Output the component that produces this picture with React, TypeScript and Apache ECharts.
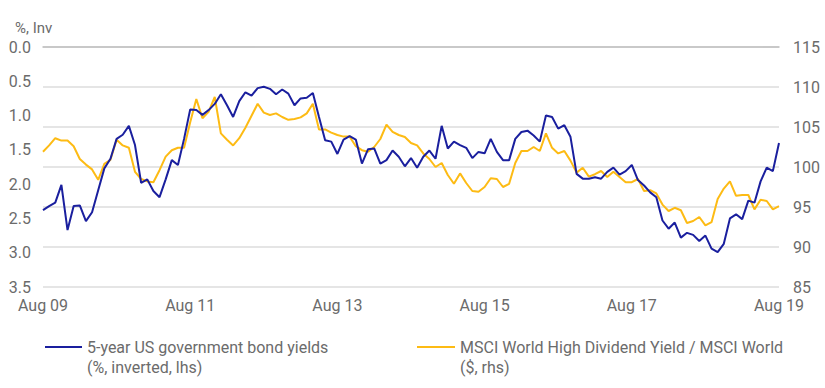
import React, { useEffect, useRef } from "react";
import * as echarts from "echarts";

const startYear = 2009;
const monthNames = ["Aug", "Sep", "Oct", "Nov", "Dec", "Jan", "Feb", "Mar", "Apr", "May", "Jun", "Jul"];
const categories: string[] = [];
for (let i = 0; i <= 120; i++) {
  const yr = startYear + Math.floor((i + 7) / 12);
  categories.push(monthNames[i % 12] + " " + String(yr % 100).padStart(2, "0"));
}

const bondYields = [
  2.38, 2.32, 2.27, 2.01, 2.67, 2.32, 2.31, 2.54, 2.41, 2.09,
  1.77, 1.63, 1.34, 1.28, 1.15, 1.43, 1.98, 1.93, 2.10, 2.19,
  1.93, 1.65, 1.72, 1.34, 0.91, 0.92, 0.99, 0.92, 0.83, 0.69,
  0.85, 1.02, 0.79, 0.66, 0.71, 0.60, 0.58, 0.61, 0.69, 0.62,
  0.68, 0.85, 0.75, 0.74, 0.67, 1.02, 1.36, 1.38, 1.56, 1.35,
  1.30, 1.35, 1.70, 1.49, 1.48, 1.70, 1.65, 1.51, 1.60, 1.74,
  1.62, 1.76, 1.60, 1.51, 1.63, 1.15, 1.48, 1.38, 1.43, 1.47,
  1.62, 1.53, 1.55, 1.34, 1.53, 1.65, 1.65, 1.34, 1.24, 1.22,
  1.29, 1.38, 1.00, 1.02, 1.19, 1.14, 1.31, 1.85, 1.92, 1.92,
  1.90, 1.92, 1.82, 1.76, 1.86, 1.81, 1.72, 1.94, 2.02, 2.12,
  2.19, 2.53, 2.65, 2.56, 2.78, 2.71, 2.74, 2.83, 2.75, 2.94,
  2.99, 2.87, 2.50, 2.44, 2.51, 2.24, 2.27, 1.96, 1.76, 1.81,
  1.40,
];

const msciRatio = [
  101.9, 102.7, 103.6, 103.3, 103.3, 102.6, 101.0, 100.3, 99.7, 98.4,
  100.4, 100.9, 103.4, 102.7, 102.4, 99.4, 98.5, 98.2, 98.1, 99.6,
  101.3, 102.1, 102.4, 102.4, 105.6, 108.5, 106.1, 106.9, 108.75, 104.2,
  103.4, 102.7, 103.6, 104.9, 106.4, 107.9, 106.8, 106.5, 106.7, 106.25,
  105.9, 106.0, 106.2, 106.7, 107.9, 104.7, 104.7, 104.3, 104.0, 103.8,
  103.8, 102.6, 102.1, 101.9, 102.5, 103.5, 105.3, 104.4, 104.0, 103.75,
  103.0, 102.7, 101.7, 101.0, 100.0, 100.5, 99.0, 97.9, 99.2, 98.0,
  97.0, 96.9, 97.5, 98.6, 98.5, 97.5, 97.9, 100.5, 102.0, 102.0,
  102.5, 102.0, 104.2, 102.4, 101.7, 102.0, 100.8, 99.3, 99.9, 98.8,
  99.1, 99.5, 98.75, 99.4, 98.75, 98.1, 98.1, 98.5, 97.0, 97.1,
  96.7, 95.3, 94.5, 94.9, 94.6, 93.0, 93.25, 93.75, 92.7, 93.1,
  96.0, 97.3, 98.2, 96.4, 96.5, 96.5, 94.7, 95.9, 95.75, 94.7,
  95.1,
];

const seriesNames = [
  "5-year US government bond yields\n(%, inverted, lhs)",
  "MSCI World High Dividend Yield / MSCI World\n($, rhs)",
];
const leftAxisName = "%, Inv";

const BLUE = "#1a1f9e";
const YELLOW = "#fdbb14";
const TEXT = "#6b6b6b";
const FONT = "Roboto";

export default function App() {
  const ref = useRef<HTMLDivElement>(null);
  useEffect(() => {
    if (!ref.current) return;
    const chart = echarts.init(ref.current, null, { renderer: "svg" });
    chart.setOption({
      animation: false,
      textStyle: { fontFamily: FONT },
      grid: { left: 43, right: 46, top: 47, height: 240 },
      xAxis: {
        type: "category",
        data: categories,
        boundaryGap: false,
        axisLine: { show: true, lineStyle: { color: "#bfbfbf", width: 1.5 } },
        axisTick: { show: false },
        axisLabel: { interval: 23, color: TEXT, fontSize: 16, margin: 10, fontFamily: FONT },
        splitLine: { show: false },
      },
      yAxis: [
        {
          type: "value",
          position: "left",
          inverse: true,
          min: 0,
          max: 3.5,
          interval: 0.5,
          axisLine: { show: false },
          axisTick: { show: false },
          splitLine: { show: false },
          axisLabel: {
            color: TEXT,
            fontSize: 16,
            margin: 12,
            fontFamily: FONT,
            padding: [4, 0, 0, 0],
            formatter: (v: number) => v.toFixed(1),
          },
        },
        {
          type: "value",
          position: "right",
          min: 85,
          max: 115,
          interval: 5,
          axisLine: { show: false },
          axisTick: { show: false },
          splitLine: { show: true, lineStyle: { color: "#dcdcdc", width: 1.5 } },
          axisLabel: { color: TEXT, fontSize: 16, margin: 14, fontFamily: FONT, padding: [4, 0, 0, 0] },
        },
      ],
      series: [
        {
          name: seriesNames[0],
          type: "line",
          yAxisIndex: 0,
          data: bondYields,
          showSymbol: false,
          lineStyle: { color: BLUE, width: 2 },
          itemStyle: { color: BLUE },
          z: 3,
        },
        {
          name: seriesNames[1],
          type: "line",
          yAxisIndex: 1,
          data: msciRatio,
          showSymbol: false,
          lineStyle: { color: YELLOW, width: 2 },
          itemStyle: { color: YELLOW },
          z: 2,
        },
      ],
      graphic: [
        {
          type: "text",
          left: 15,
          top: 20,
          style: { text: leftAxisName, fill: TEXT, font: `15px ${FONT}` },
        },
        {
          type: "line",
          shape: { x1: 45, y1: 347, x2: 82, y2: 347 },
          style: { stroke: BLUE, lineWidth: 2 },
        },
        {
          type: "text",
          x: 87,
          y: 337,
          style: { text: seriesNames[0], fill: TEXT, font: `16px ${FONT}`, lineHeight: 20 },
        },
        {
          type: "line",
          shape: { x1: 417, y1: 347, x2: 455, y2: 347 },
          style: { stroke: YELLOW, lineWidth: 2 },
        },
        {
          type: "text",
          x: 460,
          y: 337,
          style: { text: seriesNames[1], fill: TEXT, font: `16px ${FONT}`, lineHeight: 20 },
        },
      ],
    });
    return () => chart.dispose();
  }, []);
  return <div ref={ref} style={{ position: "absolute", left: 0, top: 0, width: 825, height: 388 }} />;
}
